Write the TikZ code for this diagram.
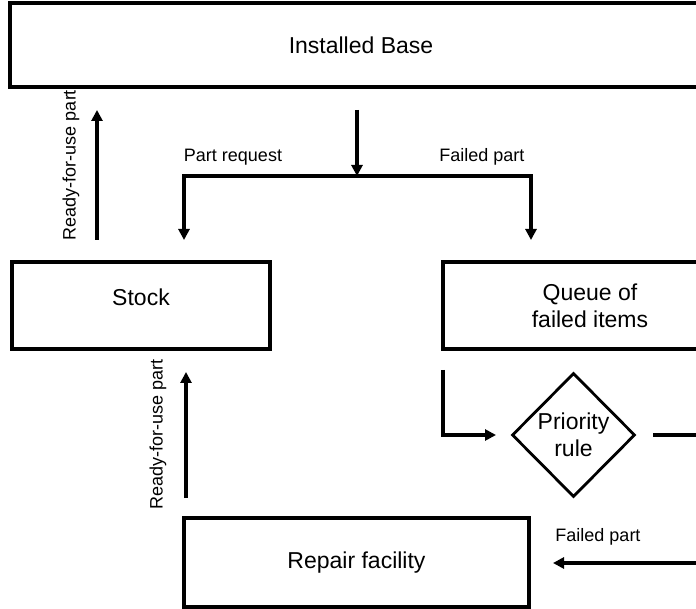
\documentclass[tikz,border=0pt]{standalone}
\usepackage{fontspec}
\setmainfont{Liberation Sans}
\usepackage{tikz}
\usetikzlibrary{arrows.meta}
\usetikzlibrary{shapes.geometric}

\tikzset{
 blok/.style={draw,line width=3.3pt,rectangle,inner sep=0pt,font=\fontsize{23}{27}\selectfont,align=center},
 keuze/.style={draw,line width=2.8pt,diamond,aspect=1,inner sep=0pt,minimum width=123pt,minimum height=124pt,font=\fontsize{23}{27}\selectfont,align=center},
 pijl/.style={line width=3.5pt,->},
 lbl/.style={font=\fontsize{18}{20}\selectfont,inner sep=0pt}
}

\begin{document}
\begin{tikzpicture}[line cap=butt,line join=miter,>={Triangle[length=11pt,width=11pt]},x=1pt,y=-1pt]
\useasboundingbox (0,0) rectangle (696,609);
\clip (0,0) rectangle (696,609);
% boxes
\node[blok,minimum width=702pt,minimum height=84pt] (base) at (361,45) {Installed Base};
\node[blok,minimum width=258pt,minimum height=87pt] (stock) at (141,305.5) {\raisebox{8pt}[\height][\depth]{Stock}};
\node[blok,minimum width=294pt,minimum height=87pt] (queue) at (590,305.5) {Queue of\\failed items};
\node[keuze] (prio) at (573.5,435) {Priority\\rule};
\node[blok,minimum width=345pt,minimum height=89pt] (repair) at (356.5,562.5) {Repair facility};
% arrow ends
\coordinate (up1s) at (97,240);
\coordinate (up1e) at (97,110);
\coordinate (dn0s) at (357,110);
\coordinate (split) at (357,176);
\coordinate (reqend) at (184,240);
\coordinate (failend) at (531,240);
\coordinate (q1) at (443,370);
\coordinate (p1) at (496,435);
\coordinate (p2) at (653,435);
\coordinate (turn) at (760,435);
\coordinate (r1) at (553,563);
\coordinate (up2s) at (186,498);
\coordinate (up2e) at (186,372);
% arrows
\draw[pijl] (up1s) -- (up1e);
\draw[pijl] (dn0s) -- (split);
\draw[pijl] (split) -| (reqend);
\draw[pijl] (split) -| (failend);
\draw[pijl] (q1) |- (p1);
\draw[pijl] (p2) -- (turn) |- (r1);
\draw[pijl] (up2s) -- (up2e);
% labels
\node[lbl,rotate=90] (rdy1) at (71,165) {Ready-for-use part};
\node[lbl,rotate=90] (rdy2) at (158,434) {Ready-for-use part};
\node[lbl] (req) at (233,157) {Part request};
\node[lbl] (fail1) at (482,157) {Failed part};
\node[lbl] (fail2) at (598,537) {Failed part};
\end{tikzpicture}
\end{document}
